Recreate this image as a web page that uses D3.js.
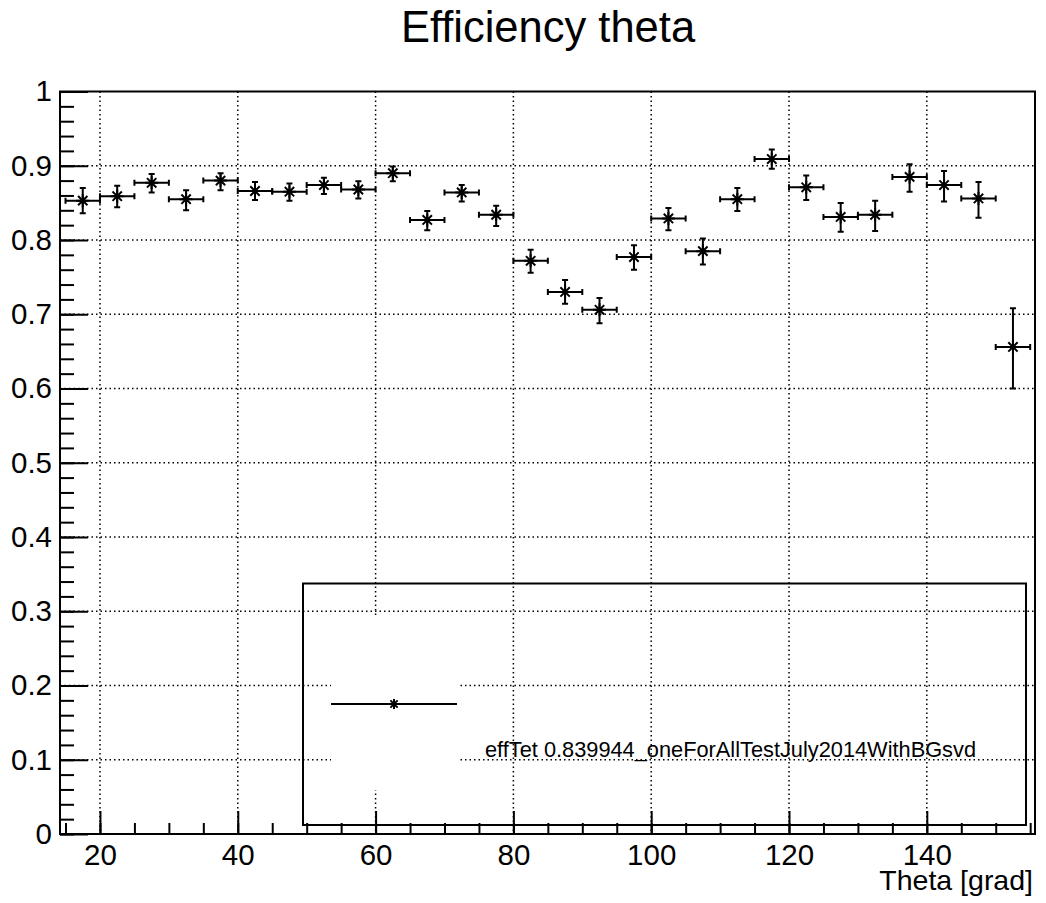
<!DOCTYPE html>
<html>
<head>
<meta charset="utf-8">
<script src="https://cdn.jsdelivr.net/npm/d3@7"></script>
<style>
  body { margin: 0; background: #fff; }
  text { font-family: "Liberation Sans", Arial, sans-serif; fill: #000; }
</style>
</head>
<body>
<script>
// Bin centres (theta, grad), bin half width is 2.5
const binCentres = [17.5, 22.5, 27.5, 32.5, 37.5, 42.5, 47.5, 52.5, 57.5, 62.5,
  67.5, 72.5, 77.5, 82.5, 87.5, 92.5, 97.5, 102.5, 107.5, 112.5,
  117.5, 122.5, 127.5, 132.5, 137.5, 142.5, 147.5, 152.5];
const halfWidth = 2.5;

// Efficiency per bin
const efficiency = [0.853, 0.859, 0.877, 0.855, 0.880, 0.866, 0.865, 0.874, 0.868, 0.890,
  0.827, 0.864, 0.834, 0.772, 0.730, 0.706, 0.777, 0.829, 0.785, 0.855,
  0.909, 0.871, 0.831, 0.834, 0.885, 0.874, 0.856, 0.656];

// Asymmetric errors (upper / lower)
const errHigh = [0.017, 0.014, 0.012, 0.012, 0.010, 0.012, 0.011, 0.010, 0.011, 0.009,
  0.012, 0.010, 0.012, 0.015, 0.016, 0.016, 0.016, 0.014, 0.017, 0.015,
  0.013, 0.016, 0.019, 0.019, 0.017, 0.019, 0.022, 0.052];
const errLow = [0.017, 0.015, 0.013, 0.015, 0.013, 0.012, 0.012, 0.012, 0.012, 0.011,
  0.014, 0.012, 0.015, 0.016, 0.016, 0.018, 0.017, 0.016, 0.018, 0.016,
  0.013, 0.017, 0.020, 0.022, 0.020, 0.022, 0.026, 0.056];

// Axis ticks
const xMajorTicks = [20, 40, 60, 80, 100, 120, 140];
const xMinorTicks = d3.range(15, 156, 5);
const yMajorTicks = [0, 0.1, 0.2, 0.3, 0.4, 0.5, 0.6, 0.7, 0.8, 0.9, 1];
const yMinorTicks = d3.range(0, 51).map(i => i * 0.02);

const titleText = "Efficiency theta";
const xTitle = "Theta [grad]";
const legendLabel = "effTet 0.839944_oneForAllTestJuly2014WithBGsvd";

// Frame geometry
const svgWidth = 1046;
const svgHeight = 903;
const frame = { left: 60, right: 1035, top: 91.5, bottom: 834 };

let svg = d3.select("body")
  .append("svg")
  .attr("width", svgWidth)
  .attr("height", svgHeight);

let xScale = d3.scaleLinear().domain([14.2, 155.7]).range([frame.left, frame.right]);
let yScale = d3.scaleLinear().domain([0, 1]).range([frame.bottom, frame.top]);

// Grid (dotted) at major ticks
let grid = svg.append("g")
  .attr("stroke", "#000")
  .attr("stroke-width", 1.5)
  .attr("stroke-dasharray", "1.5 3");

grid.selectAll(".vgrid")
  .data(xMajorTicks)
  .enter().append("line")
  .attr("x1", d => xScale(d)).attr("x2", d => xScale(d))
  .attr("y1", frame.top).attr("y2", frame.bottom);

grid.selectAll(".hgrid")
  .data(yMajorTicks.filter(d => d > 0 && d < 1))
  .enter().append("line")
  .attr("x1", frame.left).attr("x2", frame.right)
  .attr("y1", d => yScale(d)).attr("y2", d => yScale(d));

// Minor ticks
svg.append("g")
  .attr("transform", `translate(0, ${frame.bottom})`)
  .call(d3.axisBottom(xScale).tickValues(xMinorTicks).tickSize(-11).tickFormat(""))
  .call(g => g.select(".domain").remove())
  .call(g => g.selectAll("line").attr("stroke-width", 2));

svg.append("g")
  .attr("transform", `translate(${frame.left}, 0)`)
  .call(d3.axisLeft(yScale).tickValues(yMinorTicks).tickSize(-14).tickFormat(""))
  .call(g => g.select(".domain").remove())
  .call(g => g.selectAll("line").attr("stroke-width", 2));

// Major ticks and labels
svg.append("g")
  .attr("transform", `translate(0, ${frame.bottom})`)
  .call(d3.axisBottom(xScale).tickValues(xMajorTicks).tickSize(-23).tickPadding(10))
  .call(g => g.select(".domain").remove())
  .call(g => g.selectAll("line").attr("stroke-width", 2))
  .call(g => g.selectAll("text").attr("font-size", 29.5)
    .attr("font-family", "'Liberation Sans', Arial, sans-serif"));

svg.append("g")
  .attr("transform", `translate(${frame.left}, 0)`)
  .call(d3.axisLeft(yScale).tickValues(yMajorTicks).tickSize(-28).tickPadding(8)
    .tickFormat(d3.format("~g")))
  .call(g => g.select(".domain").remove())
  .call(g => g.selectAll("line").attr("stroke-width", 2))
  .call(g => g.selectAll("text").attr("font-size", 29.5)
    .attr("font-family", "'Liberation Sans', Arial, sans-serif"));

// Frame
svg.append("rect")
  .attr("x", frame.left).attr("y", frame.top)
  .attr("width", frame.right - frame.left)
  .attr("height", frame.bottom - frame.top)
  .attr("fill", "none")
  .attr("stroke", "#000")
  .attr("stroke-width", 2);

// Legend box (hollow), with white patch behind the entry symbol
svg.append("rect")
  .attr("x", 303).attr("y", 583.5)
  .attr("width", 723).attr("height", 241.5)
  .attr("fill", "none")
  .attr("stroke", "#000")
  .attr("stroke-width", 2);

svg.append("rect")
  .attr("x", 331).attr("y", 618)
  .attr("width", 127).attr("height", 172)
  .attr("fill", "#fff");

function starPath(cx, cy, r) {
  let d = r * 0.72;
  return `M${cx - r},${cy}L${cx + r},${cy}M${cx},${cy - r}L${cx},${cy + r}` +
    `M${cx - d},${cy - d}L${cx + d},${cy + d}M${cx - d},${cy + d}L${cx + d},${cy - d}`;
}

svg.append("line")
  .attr("x1", 331).attr("x2", 457)
  .attr("y1", 704).attr("y2", 704)
  .attr("stroke", "#000").attr("stroke-width", 2);

svg.append("path")
  .attr("d", starPath(394, 704, 5))
  .attr("stroke", "#000").attr("stroke-width", 2).attr("fill", "none");

svg.append("text")
  .attr("x", 485).attr("y", 757)
  .attr("font-size", 21.5)
  .attr("textLength", 491)
  .attr("lengthAdjust", "spacingAndGlyphs")
  .text(legendLabel);

// Data points with error bars
const points = binCentres.map((c, i) => ({
  x: c, y: efficiency[i], hi: errHigh[i], lo: errLow[i]
}));

let dataGroup = svg.append("g")
  .attr("stroke", "#000")
  .attr("stroke-width", 2)
  .attr("fill", "none");

let pts = dataGroup.selectAll(".pt")
  .data(points)
  .enter().append("g");

const cap = 3;
pts.append("path")
  .attr("d", d => {
    let x0 = xScale(d.x - halfWidth), x1 = xScale(d.x + halfWidth);
    let cx = xScale(d.x), cy = yScale(d.y);
    let y0 = yScale(d.y + d.hi), y1 = yScale(d.y - d.lo);
    return `M${x0},${cy}L${x1},${cy}` +
      `M${x0},${cy - cap}L${x0},${cy + cap}M${x1},${cy - cap}L${x1},${cy + cap}` +
      `M${cx},${y0}L${cx},${y1}` +
      `M${cx - cap},${y0}L${cx + cap},${y0}M${cx - cap},${y1}L${cx + cap},${y1}`;
  });

pts.append("path")
  .attr("d", d => starPath(xScale(d.x), yScale(d.y), 6.5));

// Title and axis title
svg.append("text")
  .attr("x", 548).attr("y", 42)
  .attr("text-anchor", "middle")
  .attr("font-size", 43.5)
  .text(titleText);

svg.append("text")
  .attr("x", 1033).attr("y", 890)
  .attr("text-anchor", "end")
  .attr("font-size", 28.5)
  .text(xTitle);
</script>
</body>
</html>
